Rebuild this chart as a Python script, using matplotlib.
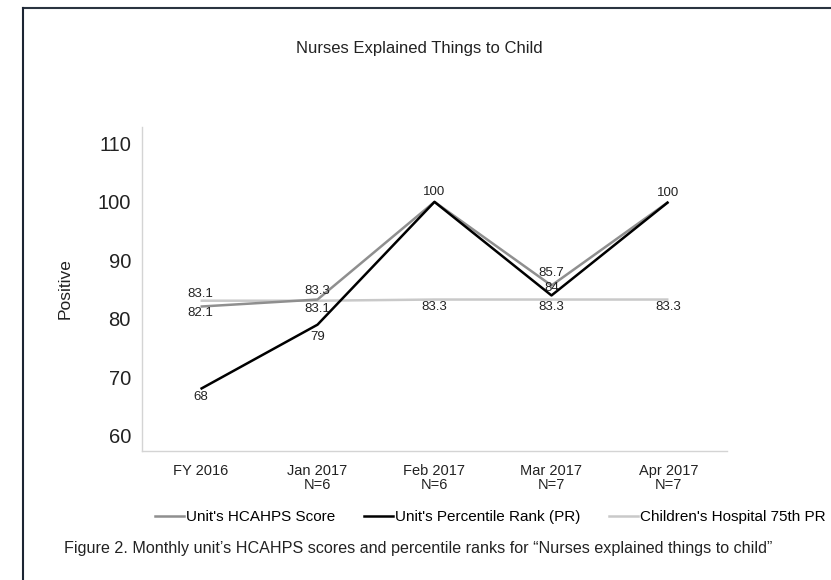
import matplotlib
matplotlib.use("Agg")
import matplotlib.pyplot as plt
from matplotlib.lines import Line2D

plt.rcParams['font.family'] = ['Liberation Sans', 'DejaVu Sans']

categories = ["FY 2016", "Jan 2017\nN=6", "Feb 2017\nN=6", "Mar 2017\nN=7", "Apr 2017\nN=7"]
hcahps = [82.1, 83.3, 100, 85.7, 100]
pr = [68, 79, 100, 84, 100]
pr75 = [83.1, 83.1, 83.3, 83.3, 83.3]
yticks = [60, 70, 80, 90, 100, 110]

# label offsets (points, label centre relative to point)
hc_off = [-4.5, 6, 7, 8.8, 6.5]
pr_off = [-6, -8.6, None, 5.6, None]
p75_off = [5, -5.8, -5.4, -5.4, -5.4]

fig = plt.figure(figsize=(8.31, 5.80), dpi=100)
ax = fig.add_axes([0.1709, 0.2224, 0.7039, 0.5586])
x = list(range(len(categories)))

c_hc = '#8f8f8f'
c_pr = '#000000'
c_75 = '#c9c9c9'

ax.plot(x, pr75, color=c_75, lw=1.8, solid_capstyle='butt', label="Children's Hospital 75th PR", zorder=2)
ax.plot(x, hcahps, color=c_hc, lw=1.8, solid_capstyle='butt', label="Unit's HCAHPS Score", zorder=3)
ax.plot(x, pr, color=c_pr, lw=1.8, solid_capstyle='butt', label="Unit's Percentile Rank (PR)", zorder=4)

def lab(vals, offs):
    for xi, v, o in zip(x, vals, offs):
        if o is None:
            continue
        ax.annotate(f"{v:g}", (xi, v), xytext=(0, o), textcoords='offset points',
                    ha='center', va='center', fontsize=9.5, color='#222222', zorder=5)

lab(hcahps, hc_off)
lab(pr, pr_off)
lab(pr75, p75_off)

ax.set_xlim(-0.5, 4.5)
ax.set_ylim(57.4, 112.8)
ax.set_yticks(yticks)
ax.set_yticklabels([str(t) for t in yticks], fontsize=14.5)
ax.set_xticks(x)
ax.set_xticklabels(categories, fontsize=10.5, linespacing=1.0)
ax.tick_params(axis='both', length=0, colors='#222222')
ax.tick_params(axis='y', pad=8)
ax.tick_params(axis='x', pad=9)
for s in ['top', 'right']:
    ax.spines[s].set_visible(False)
for s in ['left', 'bottom']:
    ax.spines[s].set_color('#d4d4d4')
    ax.spines[s].set_linewidth(1.0)

ax.set_ylabel("Positive", fontsize=12.5, color='#222222', labelpad=18)
fig.text(0.505, 1 - 48/580, "Nurses Explained Things to Child", ha='center', va='center', fontsize=12, color='#222222')

handles = [Line2D([], [], color=c_hc, lw=1.8), Line2D([], [], color=c_pr, lw=1.8), Line2D([], [], color=c_75, lw=1.8)]
labels = ["Unit's HCAHPS Score", "Unit's Percentile Rank (PR)", "Children's Hospital 75th PR"]
fig.legend(handles, labels, loc='center', bbox_to_anchor=(0.59, 1 - 517/580), ncol=3, frameon=False,
           fontsize=11, handlelength=1.9, handletextpad=0.1, columnspacing=1.9)

fig.text(0.503, 1 - 548/580, "Figure 2. Monthly unit\u2019s HCAHPS scores and percentile ranks for \u201cNurses explained things to child\u201d",
         ha='center', va='center', fontsize=11.6, color='#222222')

# screenshot border lines
fig.add_artist(Line2D([23/831, 1], [1 - 7.5/580, 1 - 7.5/580], color='#2a3440', lw=1.5, transform=fig.transFigure))
fig.add_artist(Line2D([23/831, 23/831], [0, 1 - 7.5/580], color='#1c2533', lw=1.5, transform=fig.transFigure))

fig.savefig("out.png", dpi=100)
